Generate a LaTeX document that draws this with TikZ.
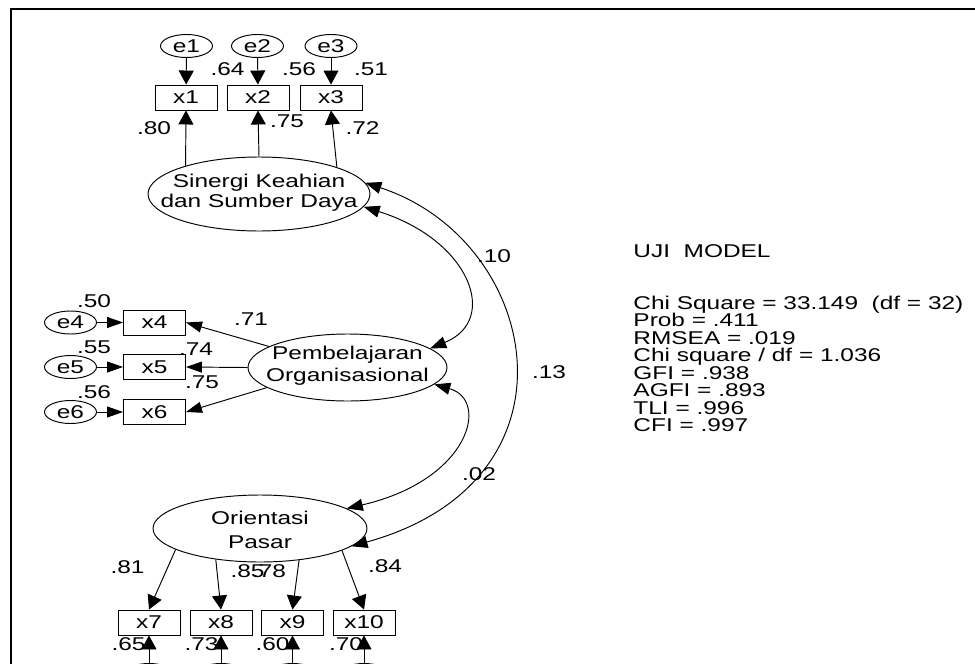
\documentclass[tikz,border=0pt]{standalone}
\usepackage{fontspec}
\setmainfont{Liberation Sans}[FakeStretch=1.32]
\usetikzlibrary{arrows.meta,shapes.geometric}
\begin{document}
\begin{tikzpicture}[x=1pt,y=-1pt,line width=0.95pt,
  every node/.style={font=\fontsize{18.5}{20}\selectfont},
  box/.style={draw,rectangle,minimum width=62pt,minimum height=25pt,inner sep=0pt},
  err/.style={draw,ellipse,minimum width=52pt,minimum height=23pt,inner sep=0pt},
  lat/.style={draw,ellipse,inner sep=0pt},
  lbl/.style={inner sep=0pt},
  stat/.style={inner sep=0pt,anchor=base west},
  va/.style={-{Triangle[length=14pt,width=15pt]}},
  ha/.style={-{Triangle[length=16pt,width=11pt]}},
  cov/.style={{Triangle[length=16pt,width=12pt]}-{Triangle[length=16pt,width=12pt]}},
]
\useasboundingbox (0,0) rectangle (975,664);
% frame
\draw[line width=2.5pt] (11,680) -- (11,8.75) -- (990,8.75);

% ---- top block
\node[err] (e1) at (186.5,46) {e1};
\node[err] (e2) at (257.5,46) {e2};
\node[err] (e3) at (331,46) {e3};
\node[box] (x1) at (186,97.5) {x1};
\node[box] (x2) at (258,97.5) {x2};
\node[box] (x3) at (331,97.5) {x3};
\draw[va] (e1) -- (x1);
\draw[va] (e2) -- (x2);
\draw[va] (e3) -- (x3);
\node[lat,minimum width=222pt,minimum height=74pt] (sin) at (259,194) {};
\node[lbl,align=center,font=\fontsize{18.5}{20}\selectfont] (sint) at (259,193) {Sinergi Keahian\\dan Sumber Daya};
\draw[va] (sin.159) -- (x1.south);
\draw[va] (sin.90) -- (x2.south);
\draw[va] (sin.19) -- (x3.south);
\node[lbl] (l64) at (227.5,69) {.64};
\node[lbl] (l56a) at (299,69) {.56};
\node[lbl] (l51) at (371,69) {.51};
\node[lbl] (l80) at (154,128) {.80};
\node[lbl] (l75a) at (287,121.5) {.75};
\node[lbl] (l72) at (362.5,128) {.72};

% ---- middle block
\node[err] (e4) at (70.5,322.5) {e4};
\node[err] (e5) at (70.5,367) {e5};
\node[err] (e6) at (70.5,412) {e6};
\node[box] (x4) at (154.5,322.5) {x4};
\node[box] (x5) at (154.5,367) {x5};
\node[box] (x6) at (154.5,412) {x6};
\draw[ha] (e4) -- (x4);
\draw[ha] (e5) -- (x5);
\draw[ha] (e6) -- (x6);
\node[lat,minimum width=199pt,minimum height=67pt] (pem) at (347.5,367.5) {};
\node[lbl,align=center,font=\fontsize{18.5}{22}\selectfont] (pemt) at (347.5,366) {Pembelajaran\\Organisasional};
\draw[ha] (pem.165.5) -- (x4.east);
\draw[ha] (pem.180) -- (x5.east);
\draw[ha] (pem.194.5) -- (x6.east);
\node[lbl] (l50) at (94,301) {.50};
\node[lbl] (l55) at (94,347) {.55};
\node[lbl] (l56b) at (94,392) {.56};
\node[lbl] (l71) at (251,319) {.71};
\node[lbl] (l74) at (196,349) {.74};
\node[lbl] (l75b) at (202,382.5) {.75};

% ---- bottom block
\node[lat,minimum width=214pt,minimum height=67pt] (ori) at (260,528.5) {};
\node[lbl,align=center,font=\fontsize{18.5}{24}\selectfont] (orit) at (260,530) {Orientasi\\Pasar};
\node[box] (x7) at (149,622.5) {x7};
\node[box] (x8) at (221,622.5) {x8};
\node[box] (x9) at (292.5,622.5) {x9};
\node[box] (x10) at (364,622.5) {x10};
\draw[va] (ori.194) -- (x7.north);
\draw[va] (ori.215) -- (x8.north);
\draw[va] (ori.321.7) -- (x9.north);
\draw[va] (ori.345) -- (x10.north);
\node[err] (e7) at (149,675) {};
\node[err] (e8) at (221,675) {};
\node[err] (e9) at (292.5,675) {};
\node[err] (e10) at (364,675) {};
\draw[va] (e7) -- (x7.south);
\draw[va] (e8) -- (x8.south);
\draw[va] (e9) -- (x9.south);
\draw[va] (e10) -- (x10.south);
\node[lbl] (l81) at (127.5,567) {.81};
\node[lbl] (l85) at (247.5,571.5) {.85};
\node[lbl] (l78) at (269,571.5) {.78};
\node[lbl] (l84) at (385,566) {.84};
\node[lbl] (l65) at (128.5,644) {.65};
\node[lbl] (l73) at (201.5,644) {.73};
\node[lbl] (l60) at (272.5,644) {.60};
\node[lbl] (l70) at (346,644) {.70};

% ---- covariances
\draw[cov] (sin.353) .. controls (470,240) and (500,320) .. (pem.13);
\draw[cov] (sin.6) .. controls (540,240) and (590,480) .. (ori.349);
\draw[cov] (pem.349) .. controls (490,400) and (470,480) .. (ori.13);
\node[lbl] (l10) at (494,256) {.10};
\node[lbl] (l13) at (549,372) {.13};
\node[lbl] (l02) at (479,474) {.02};

% ---- fit statistics
\node[stat] (uji) at (633,257) {UJI\ \ MODEL};
\foreach \t [count=\i] in {{Chi Square = 33.149\ \ (df = 32)},{Prob = .411},{RMSEA = .019},{Chi square / df = 1.036},{GFI = .938},{AGFI = .893},{TLI = .996},{CFI = .997}}
  \node[stat] (st\i) at (633,{309+17.5*(\i-1)}) {\t};
\end{tikzpicture}
\end{document}
